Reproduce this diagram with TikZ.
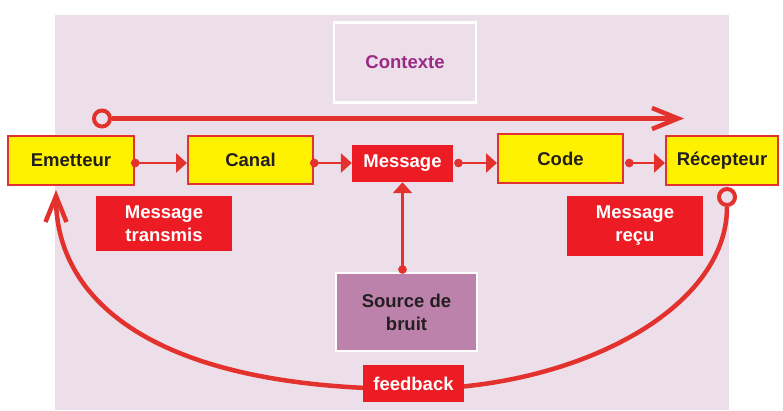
\documentclass[tikz,border=0pt]{standalone}
\usepackage{fontspec}
\setmainfont{Liberation Sans}
\usetikzlibrary{arrows.meta}
\definecolor{bg}{HTML}{ECDFEA}
\definecolor{yel}{HTML}{FFF200}
\definecolor{redline}{HTML}{E3322E}
\definecolor{redbox}{HTML}{ED1C24}
\definecolor{srcfill}{HTML}{BD82AC}
\definecolor{ctxtext}{HTML}{9A2A85}
\definecolor{dark}{HTML}{231F20}
\begin{document}
\begin{tikzpicture}[x=1pt,y=-1pt,
  lbl/.style={font=\fontsize{18.5}{23}\selectfont\bfseries, inner sep=0pt, align=center},
  ybox/.style={lbl, rectangle, fill=yel, draw=redline, line width=2pt, text=dark},
  rbox/.style={lbl, rectangle, fill=redbox, text=white},
  wbox/.style={lbl, rectangle, draw=white, line width=2.5pt},
  conn/.style={draw=redline, line width=2.8pt, {Circle[length=8.5pt,width=8.5pt]}-{Triangle[length=11pt,width=19pt]}},
  bigline/.style={draw=redline, line width=4.5pt, -{Straight Barb[length=26pt,width=21pt,line cap=butt,line join=miter]}},
  ring/.style={circle, draw=redline, line width=4pt, fill=bg, minimum size=16pt, inner sep=0pt}
]
\useasboundingbox (0,0) rectangle (783,410);
\fill[bg] (55,15) rectangle (729,410);

% context
\node[wbox, text=ctxtext, minimum width=142pt, minimum height=80pt] (ctx) at (405,62.5) {Contexte};

% main boxes
\node[ybox, minimum width=126pt, minimum height=49pt] (em) at (71,160.5) {Emetteur};
\node[ybox, minimum width=125pt, minimum height=48pt] (ca) at (250.5,160) {Canal};
\node[rbox, minimum width=101pt, minimum height=37pt] (ms) at (402.5,163.5) {Message};
\node[ybox, minimum width=125pt, minimum height=49pt] (co) at (560.5,158.5) {Code};
\node[ybox, minimum width=112pt, minimum height=49pt] (re) at (722,160.5) {Récepteur};

\node[rbox, minimum width=136pt, minimum height=55pt] (mt) at (164,223.5) {Message\\transmis};
\node[rbox, minimum width=136pt, minimum height=60pt] (mr) at (635,226) {Message\\reçu};
\node[wbox, fill=srcfill, text=dark, minimum width=141pt, minimum height=78pt] (src) at (406.5,312) {Source de\\bruit};

% horizontal connectors at y = 163
\coordinate (lvl) at (0,163);
\draw[conn, shorten <=-4pt] (em.east |- lvl) -- (ca.west |- lvl);
\draw[conn, shorten <=-4pt] (ca.east |- lvl) -- (ms.west |- lvl);
\draw[conn, shorten <=-4pt] (ms.east |- lvl) ++(5,0) coordinate (msx) (msx) -- (co.west |- lvl);
\draw[conn, shorten <=-4pt] (co.east |- lvl) ++(5,0) coordinate (cox) (cox) -- (re.west |- lvl);
\draw[conn] ([yshift=-2pt]src.north -| ms.south) -- (ms.south);

% top arrow
\node[ring] (c1) at (102,118.5) {};
\coordinate (topend) at (684,118.5);
\draw[bigline] (c1.east) -- (topend);

% feedback
\node[ring] (c2) at (727,197) {};
\coordinate (fbend) at (56,190);
\draw[bigline] (c2.south) .. controls (727,310) and (575,389) .. (413,389)
  .. controls (153,389) and (56,300) .. (fbend);
\node[rbox, minimum width=101pt, minimum height=37pt] (fb) at (413.5,383.5) {feedback};
\end{tikzpicture}
\end{document}
